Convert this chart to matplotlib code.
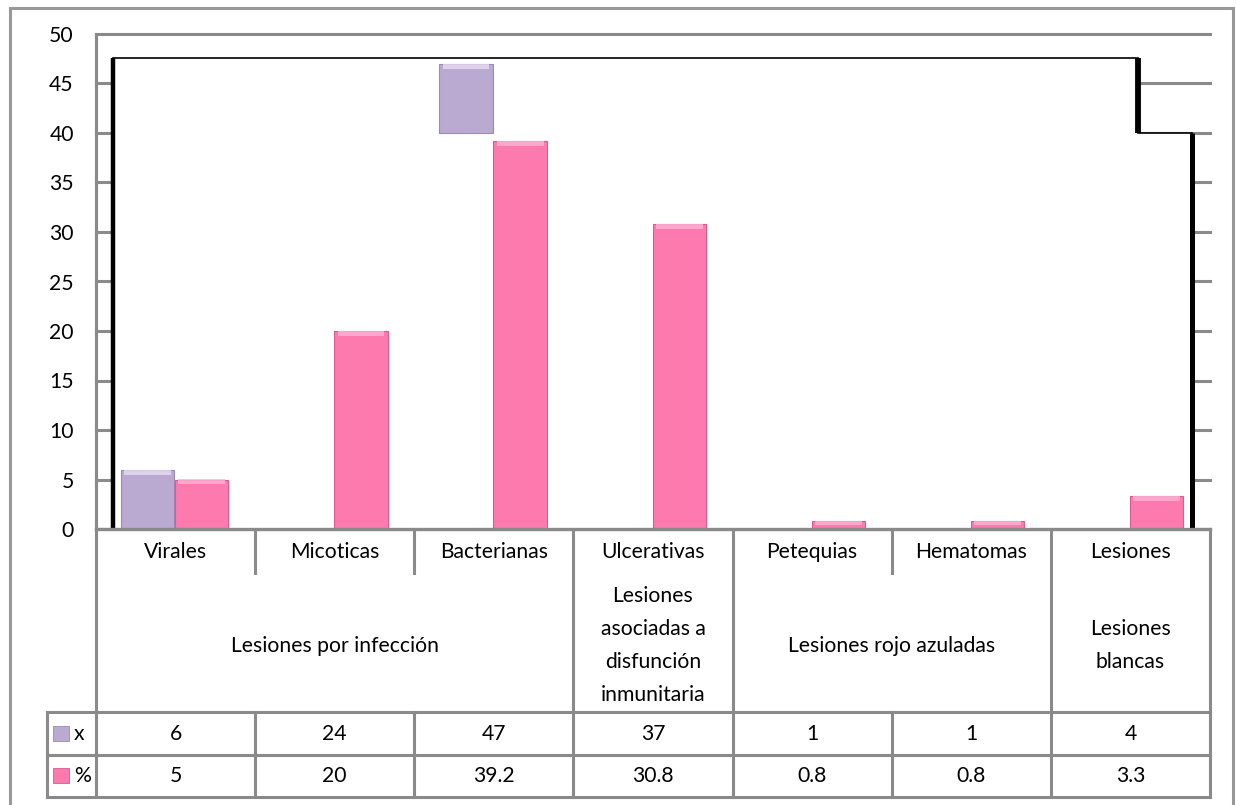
import matplotlib
matplotlib.use("Agg")
import matplotlib.pyplot as plt
import matplotlib.transforms as mtransforms
from matplotlib.patches import Polygon

# --- data ---------------------------------------------------------------
categories = ["Virales", "Micoticas", "Bacterianas", "Ulcerativas",
              "Petequias", "Hematomas", "Lesiones"]
groups = [
    ("Lesiones por infección", 0, 2),
    ("Lesiones\nasociadas a\ndisfunción\ninmunitaria", 3, 3),
    ("Lesiones rojo azuladas", 4, 5),
    ("Lesiones\nblancas", 6, 6),
]
series_names = ["x", "%"]
x_values = [6, 24, 47, 37, 1, 1, 4]
pct_values = [5, 20, 39.2, 30.8, 0.8, 0.8, 3.3]
x_labels = ["6", "24", "47", "37", "1", "1", "4"]
pct_labels = ["5", "20", "39.2", "30.8", "0.8", "0.8", "3.3"]
# lower end of the part of each "x" bar that shows above the plot fill
x_visible_from = [0, None, 40, None, None, None, None]
y_ticks = list(range(0, 51, 5))

# --- style --------------------------------------------------------------
FONT = "Lato"
FS = 15.2
GRAY = "#8a8a8a"
LAV = "#baaad2"
LAV_EDGE = "#9a8ab4"
LAV_TOP = "#e6dcf3"
PINK = "#fc7aae"
PINK_EDGE = "#d85d8e"
PINK_TOP = "#ffb3d6"

W, H = 1236, 805
fig = plt.figure(figsize=(W / 100, H / 100), dpi=100)
fig.patch.set_facecolor("white")

# pixel-space overlay for frame and table lines
ov = fig.add_axes([0, 0, 1, 1], zorder=0)
ov.set_xlim(0, W)
ov.set_ylim(H, 0)
ov.axis("off")

ax_l, ax_r, ax_t, ax_b = 96, 1210, 34, 529
ax = fig.add_axes([ax_l / W, 1 - ax_b / H, (ax_r - ax_l) / W, (ax_b - ax_t) / H], zorder=2)
ax.patch.set_alpha(0)
n = len(categories)
ax.set_xlim(-0.5, n - 0.5)
ax.set_ylim(0, 50)
ax.set_yticks(y_ticks)
ax.set_yticklabels([str(t) for t in y_ticks], fontname=FONT, fontsize=FS)
ax.set_xticks([])
ax.tick_params(axis="y", length=0, pad=16)
for s in ["top", "right"]:
    ax.spines[s].set_visible(False)
ax.spines["left"].set_color(GRAY)
ax.spines["left"].set_linewidth(2.2)
ax.spines["bottom"].set_color(GRAY)
ax.spines["bottom"].set_linewidth(2.4)
ax.yaxis.grid(True, color=GRAY, linewidth=2.2, zorder=0.5)
ax.set_axisbelow(True)
for gl in ax.get_ygridlines():
    gl.set_clip_on(False)

# plot-area fill with its black outline
xl, xr1, xr2 = -0.393, 6.047, 6.387
ytop, ystep = 47.6, 40
fill = Polygon([(xl, 0), (xl, ytop), (xr1, ytop), (xr1, ystep), (xr2, ystep), (xr2, 0)],
               closed=True, facecolor="white", edgecolor="none", zorder=1)
ax.add_patch(fill)
ax.plot([xl, xl], [0, ytop], color="black", lw=3.2, zorder=1.2, solid_capstyle="butt")
ax.plot([xl, xr1], [ytop, ytop], color="black", lw=1.2, zorder=1.2)
ax.plot([xr1, xr1], [ytop, ystep], color="black", lw=4.2, zorder=1.2, solid_capstyle="butt")
ax.plot([xr1, xr2], [ystep, ystep], color="black", lw=1.2, zorder=1.2)
ax.plot([xr2, xr2], [ystep, 0], color="black", lw=3.6, zorder=1.2, solid_capstyle="butt")

# bars, with a light bevel along the top edge
bw = 0.335
px_per_unit = (ax_b - ax_t) / 50.0


def bevel(bars, top_color):
    for b in bars:
        x0, y0 = b.get_x(), b.get_y()
        w, h = b.get_width(), b.get_height()
        band = min(h * 0.5, 5 / px_per_unit)
        ax.add_patch(plt.Rectangle((x0 + w * 0.06, y0 + h - band), w * 0.88, band,
                                   facecolor=top_color, edgecolor="none",
                                   alpha=0.8, zorder=2.1))


for i, (v, lo) in enumerate(zip(x_values, x_visible_from)):
    if lo is None:
        continue
    bars = ax.bar(i - 0.175, v - lo, bottom=lo, width=bw, color=LAV,
                  edgecolor=LAV_EDGE, linewidth=0.8, zorder=2)
    bevel(bars, LAV_TOP)
bars = ax.bar([i + 0.165 for i in range(n)], pct_values, width=bw, color=PINK,
              edgecolor=PINK_EDGE, linewidth=0.8, zorder=2)
bevel(bars, PINK_TOP)

# --- data table below the axis ------------------------------------------
tr = mtransforms.blended_transform_factory(ax.transData, ov.transData)
y_cat_bot, y_grp_bot, y_row1, y_row2 = 573, 712, 755, 797
leg_x = -0.5 - 49 / ((ax_r - ax_l) / n)


def vline(x, y0, y1):
    ov.plot([x, x], [y0, y1], color=GRAY, lw=2.2, transform=tr,
            clip_on=False, solid_capstyle="projecting")


def hline(x0, x1, y):
    ov.plot([x0, x1], [y, y], color=GRAY, lw=2.2, transform=tr,
            clip_on=False, solid_capstyle="projecting")


group_edges = {g[1] - 0.5 for g in groups} | {n - 0.5}
for k in range(n + 1):
    xb = k - 0.5
    if xb in group_edges:
        vline(xb, ax_b, y_row2)
    else:
        vline(xb, ax_b, y_cat_bot)
        vline(xb, y_grp_bot, y_row2)
vline(-0.5, ax_t, ax_b)
vline(leg_x, y_grp_bot, y_row2)
hline(leg_x, n - 0.5, y_grp_bot)
hline(leg_x, n - 0.5, y_row1)
hline(leg_x, n - 0.5, y_row2)

txt = dict(fontname=FONT, fontsize=FS, ha="center", va="center", transform=tr)
for i, c in enumerate(categories):
    ov.text(i, (ax_b + y_cat_bot) / 2 + 1, c, **txt)
for label, a, b in groups:
    ov.text((a + b) / 2, (y_cat_bot + y_grp_bot) / 2 + 3, label,
            linespacing=1.8, **txt)
for i in range(n):
    ov.text(i, (y_grp_bot + y_row1) / 2, x_labels[i], **txt)
    ov.text(i, (y_row1 + y_row2) / 2, pct_labels[i], **txt)

# legend keys in the table
unit_px = (ax_r - ax_l) / n
key_w = 16 / unit_px
for (name, col, ec), (r0, r1) in zip(
        [(series_names[0], LAV, LAV_EDGE), (series_names[1], PINK, PINK_EDGE)],
        [(y_grp_bot, y_row1), (y_row1, y_row2)]):
    yc = (r0 + r1) / 2
    x0 = leg_x + 6 / unit_px
    ov.add_patch(plt.Rectangle((x0, yc - 8), key_w, 15, facecolor=col,
                               edgecolor=ec, lw=0.6, transform=tr, clip_on=False))
    ov.text(x0 + key_w * 1.3, yc, name, fontname=FONT, fontsize=FS,
            ha="left", va="center", transform=tr)

# outer chart border
ov.plot([10, 10, 1233, 1233], [805, 8, 8, 805], color="#999999", lw=2.2,
        solid_joinstyle="miter")

fig.savefig("out.png", dpi=100, facecolor="white")
